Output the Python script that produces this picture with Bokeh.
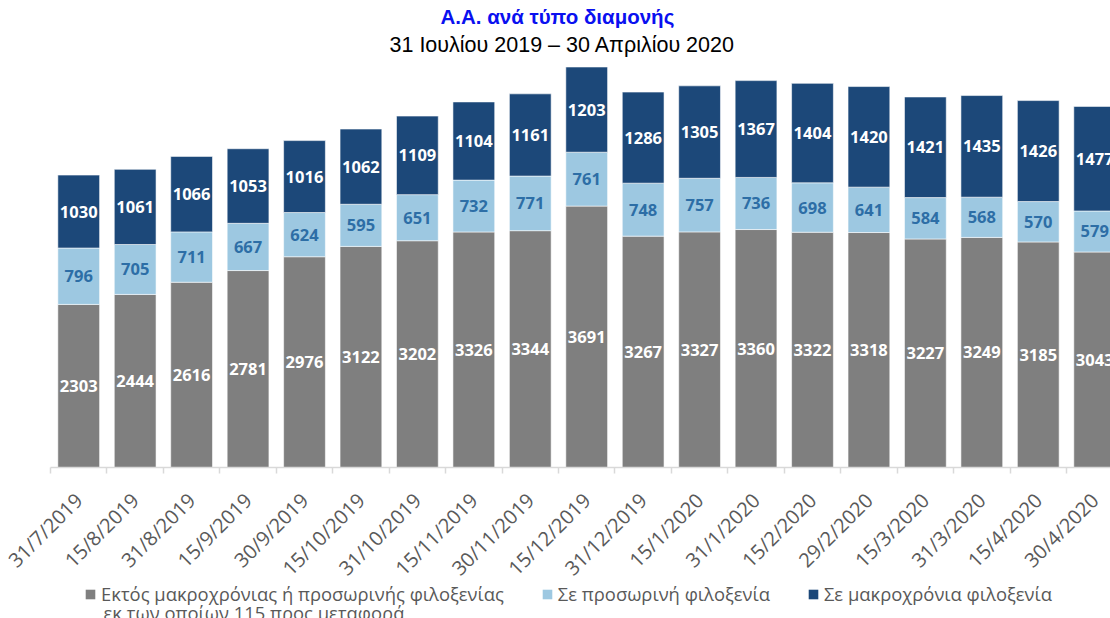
import math
from bokeh.plotting import figure
from bokeh.layouts import column
from bokeh.models import (ColumnDataSource, Range1d, FixedTicker, Title, Legend,
                          LegendItem, Label)
from bokeh.core.properties import value
from bokeh.embed import file_html
from bokeh.resources import INLINE

# ---- data ----
dates = ["31/7/2019", "15/8/2019", "31/8/2019", "15/9/2019", "30/9/2019",
         "15/10/2019", "31/10/2019", "15/11/2019", "30/11/2019", "15/12/2019",
         "31/12/2019", "15/1/2020", "31/1/2020", "15/2/2020", "29/2/2020",
         "15/3/2020", "31/3/2020", "15/4/2020", "30/4/2020"]
outside = [2303, 2444, 2616, 2781, 2976, 3122, 3202, 3326, 3344, 3691,
           3267, 3327, 3360, 3322, 3318, 3227, 3249, 3185, 3043]
temporary = [796, 705, 711, 667, 624, 595, 651, 732, 771, 761,
             748, 757, 736, 698, 641, 584, 568, 570, 579]
longterm = [1030, 1061, 1066, 1053, 1016, 1062, 1109, 1104, 1161, 1203,
            1286, 1305, 1367, 1404, 1420, 1421, 1435, 1426, 1477]
series_names = ["Εκτός μακροχρόνιας ή προσωρινής φιλοξενίας",
                "Σε προσωρινή φιλοξενία",
                "Σε μακροχρόνια φιλοξενία"]
series_note = "εκ των οποίων 115 προς μεταφορά"
title_text = "Α.Α. ανά τύπο διαμονής"
subtitle_text = "31 Ιουλίου 2019 – 30 Απριλίου 2020"

# ---- styles ----
C_GRAY = "#7f7f7f"
C_LIGHT = "#9dc8e1"
C_DARK = "#1c4879"
C_LIGHT_TXT = "#2d6ea6"
COLORS = [C_GRAY, C_LIGHT, C_DARK]
FONT = "Open Sans"

xs = list(range(len(dates)))
src = ColumnDataSource(dict(
    x=xs,
    outside=outside,
    temporary=temporary,
    longterm=longterm,
    out_mid=[o / 2 for o in outside],
    tmp_mid=[o + t / 2 for o, t in zip(outside, temporary)],
    long_mid=[o + t + l / 2 for o, t, l in zip(outside, temporary, longterm)],
    out_lbl=[str(v) for v in outside],
    tmp_lbl=[str(v) for v in temporary],
    long_lbl=[str(v) for v in longterm],
))

# ---------------- main chart ----------------
p = figure(width=1110, height=600, output_backend="svg", toolbar_location=None,
           x_range=Range1d(-0.5, 18.28), y_range=Range1d(0, 5747),
           y_axis_location=None,
           min_border_left=50, min_border_right=0, min_border_top=60,
           min_border_bottom=133, outline_line_color=None)
p.grid.visible = False

rs = p.vbar_stack(["outside", "temporary", "longterm"], x="x", width=0.74,
                  color=COLORS, source=src,
                  line_color="white", line_width=0.8, line_alpha=0.7)

common = dict(source=src, text_align="center", text_baseline="middle",
              text_font=value(FONT), text_font_style="bold",
              text_font_size="16.5px")
p.text(x="x", y="out_mid", text="out_lbl", text_color="white", **common)
p.text(x="x", y="tmp_mid", text="tmp_lbl", text_color=C_LIGHT_TXT, **common)
p.text(x="x", y="long_mid", text="long_lbl", text_color="white", **common)

ax = p.xaxis[0]
ax.ticker = FixedTicker(ticks=xs, minor_ticks=[i - 0.5 for i in range(len(dates) + 1)])
ax.major_label_overrides = {i: d for i, d in zip(xs, dates)}
ax.major_label_orientation = math.pi / 4
ax.major_label_text_font = FONT
ax.major_label_text_font_size = "20px"
ax.major_label_text_color = "#595959"
ax.major_label_standoff = 23
ax.major_tick_line_color = None
ax.minor_tick_line_color = "#d9d9d9"
ax.minor_tick_line_width = 1.5
ax.minor_tick_out = 6
ax.minor_tick_in = 0
ax.axis_line_color = "#d9d9d9"
ax.axis_line_width = 1.5

p.add_layout(Title(text=subtitle_text, align="left", offset=339,
                   text_font="Liberation Sans", text_font_size="21.5px",
                   text_font_style="normal", text_color="black", standoff=7), "above")
p.add_layout(Title(text=title_text, align="left", offset=390,
                   text_font="Liberation Sans", text_font_size="20.5px",
                   text_font_style="bold", text_color="#0a10f0", standoff=0), "above")

# ---------------- legend strip (overlaps the bottom of the chart) ----------------
lg = figure(width=1110, height=48, output_backend="svg", toolbar_location=None,
            x_range=Range1d(0, 1), y_range=Range1d(0, 1),
            x_axis_location=None, y_axis_location=None,
            min_border=0, outline_line_color=None,
            border_fill_alpha=0, background_fill_alpha=0,
            margin=(-30, 0, 0, 0))
lg.grid.visible = False
swatches = [lg.vbar(x=[0.5], top=[0], bottom=[0], width=0.01, fill_color=c,
                    line_color=None) for c in COLORS]

legend = Legend(items=[LegendItem(label=n, renderers=[r]) for n, r in zip(series_names, swatches)],
                orientation="horizontal", location=(34, 12),
                glyph_width=12, glyph_height=12, label_standoff=5, spacing=37,
                padding=0, margin=0, border_line_color=None,
                background_fill_alpha=0,
                label_text_font=FONT, label_text_font_size="18.4px",
                label_text_color="#595959")
lg.add_layout(legend)
lg.add_layout(Label(x=53, y=6, x_units="screen", y_units="screen",
                    text=series_note, text_font=FONT, text_font_size="18.4px",
                    text_color="#595959", text_baseline="middle"))

open("out.html", "w").write(file_html(column(p, lg, spacing=0), INLINE))
